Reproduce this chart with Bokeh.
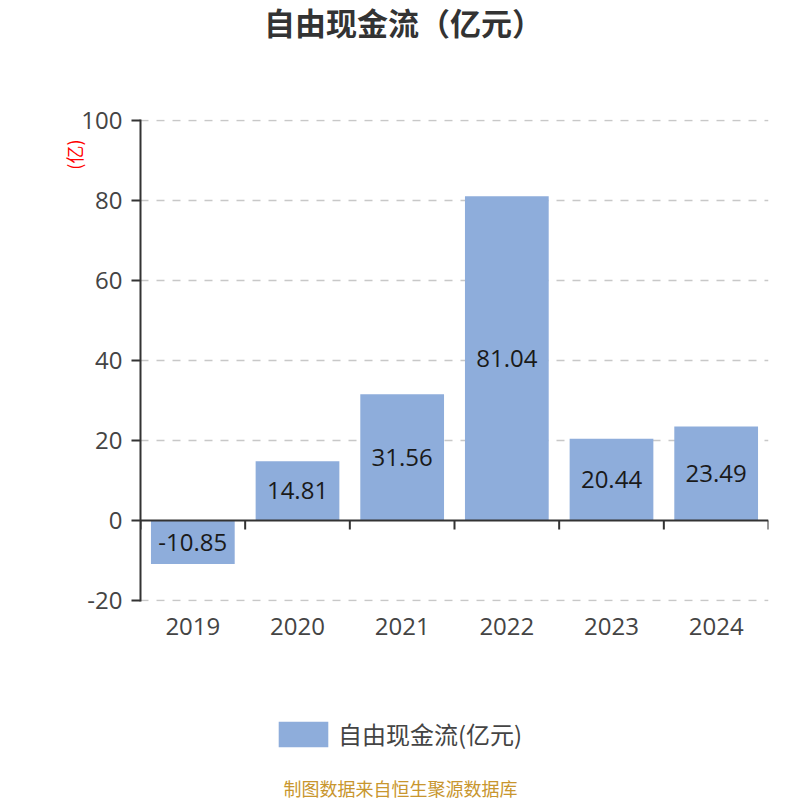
from bokeh.plotting import figure
from bokeh.layouts import column
from bokeh.models import (Range1d, Span, FixedTicker, Legend, LegendItem,
                          ColumnDataSource, Title)
from bokeh.core.properties import value
from bokeh.embed import file_html
from bokeh.resources import INLINE

years = ["2019", "2020", "2021", "2022", "2023", "2024"]
values = [-10.85, 14.81, 31.56, 81.04, 20.44, 23.49]
y_ticks = [-20, 0, 20, 40, 60, 80, 100]
y_tick_labels = ["-20", "0", "20", "40", "60", "80", "100"]
title_text = "自由现金流（亿元）"
series_name = "自由现金流(亿元)"
unit_text = "(亿)"
footer_text = "制图数据来自恒生聚源数据库"

BAR = "#8eaddb"
AX = "#333333"
NUM_FONT = "Open Sans"
CJK_FONT = "Noto Sans CJK SC"
W = 800
LEFT, RIGHT = 140, 32


def strip(h):
    f = figure(width=W, height=h, output_backend="svg", toolbar_location=None,
               x_range=Range1d(LEFT, W - RIGHT), y_range=Range1d(0, h),
               x_axis_location=None, y_axis_location=None,
               min_border_left=LEFT, min_border_right=RIGHT,
               min_border_top=0, min_border_bottom=0)
    f.outline_line_color = None
    f.grid.visible = False
    return f


# ---------- title strip ----------
HA = 52
pa = strip(HA)
pa.text(x=[403], y=[HA - 21], text=[title_text], text_align="center",
        text_baseline="middle", text_font=value(CJK_FONT), text_font_size="31px",
        text_font_style="bold", text_color=AX)

# ---------- main chart ----------
xs = list(range(len(years)))
src = ColumnDataSource(dict(
    x=xs, top=values, mid=[v / 2 for v in values],
    label=["%.2f" % v for v in values]))

p = figure(width=W, height=608, output_backend="svg", toolbar_location=None,
           x_range=Range1d(-0.5, len(years) - 0.5), y_range=Range1d(-20.25, 100.25),
           min_border_left=LEFT, min_border_right=RIGHT, min_border_top=67,
           min_border_bottom=59)
p.outline_line_color = None

p.xgrid.visible = False
p.ygrid.ticker = FixedTicker(ticks=[t for t in y_ticks if t != 0])
p.ygrid.grid_line_color = "#c8c8c8"
p.ygrid.grid_line_dash = "8 8"
p.ygrid.grid_line_width = 1.5

p.vbar(x="x", top="top", bottom=0, width=0.8, source=src,
       fill_color=BAR, line_color=None)
p.text(x="x", y="mid", text="label", source=src, text_align="center",
       text_baseline="middle", text_font=value(NUM_FONT),
       text_font_size="24px", text_color="#1a1a1a")

p.add_layout(Span(location=0, dimension="width", line_color=AX, line_width=2))
bounds = [i - 0.5 for i in range(len(years) + 1)]
p.segment(x0=bounds, x1=bounds, y0=[0] * len(bounds), y1=[-2.25] * len(bounds),
          line_color=AX, line_width=2)

p.yaxis.ticker = FixedTicker(ticks=y_ticks)
p.yaxis.major_label_overrides = dict(zip(y_ticks, y_tick_labels))
p.yaxis.axis_line_color = AX
p.yaxis.axis_line_width = 2
p.yaxis.major_tick_line_color = AX
p.yaxis.major_tick_line_width = 2
p.yaxis.major_tick_out = 9
p.yaxis.major_tick_in = 0
p.yaxis.minor_tick_line_color = None
p.yaxis.major_label_text_font = NUM_FONT
p.yaxis.major_label_text_font_size = "24px"
p.yaxis.major_label_text_color = "#444444"
p.yaxis.major_label_standoff = 9

p.xaxis.ticker = FixedTicker(ticks=xs)
p.xaxis.major_label_overrides = dict(zip(xs, years))
p.xaxis.axis_line_color = None
p.xaxis.major_tick_line_color = None
p.xaxis.minor_tick_line_color = None
p.xaxis.major_tick_out = 0
p.xaxis.major_label_text_font = NUM_FONT
p.xaxis.major_label_text_font_size = "24px"
p.xaxis.major_label_text_color = "#444444"
p.xaxis.major_label_standoff = 16

p.add_layout(Title(text=unit_text, align="right", offset=20, text_font=CJK_FONT,
                   text_font_size="18px", text_font_style="normal",
                   text_color="red", standoff=-16), "left")

# ---------- legend + footer strip ----------
HC = 140
pc = strip(HC)
lr = pc.vbar(x=[0], top=[0], bottom=[0], width=1, fill_color=BAR, line_color=None)
legend = Legend(items=[LegendItem(label=series_name, renderers=[lr])],
                location=(132, 49), orientation="horizontal",
                padding=0, margin=0, border_line_color=None,
                background_fill_alpha=0, glyph_width=62, glyph_height=32,
                label_text_font=CJK_FONT, label_text_font_size="24px",
                label_text_color="#444444", label_standoff=4,
                label_height=32)
pc.add_layout(legend, "center")
pc.text(x=[400], y=[13], text=[footer_text], text_align="center",
        text_baseline="middle", text_font=value(CJK_FONT), text_font_size="18px",
        text_color="#c8962e")

layout = column(pa, p, pc, spacing=0)
open("out.html", "w").write(file_html(layout, INLINE))
